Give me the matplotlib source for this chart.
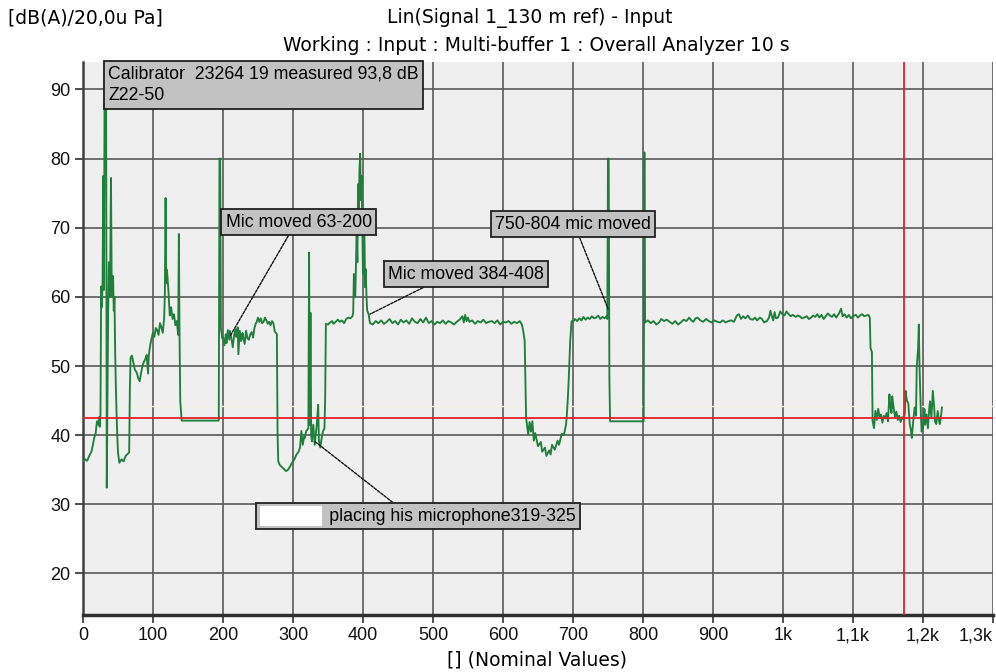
import matplotlib
matplotlib.use("Agg")
import matplotlib.pyplot as plt
from matplotlib.patches import Rectangle

plt.rcParams['font.family'] = ['Liberation Sans', 'DejaVu Sans']

# level trace (nominal index, dB(A))
trace_x = [
    0, 3, 6, 9, 12, 14, 16, 18, 20, 22, 23, 24, 25, 26, 27, 28, 29, 30, 31, 33, 34,
    36, 37, 38, 39, 40, 41, 42, 43, 44, 45, 46, 47, 48, 49, 50, 52, 55, 58, 61, 64, 66,
    67, 68, 70, 72, 74, 77, 79, 81, 83, 85, 87, 89, 91, 93, 94, 96, 98, 100, 102, 104,
    106, 108, 110, 112, 114, 116, 117, 118, 119, 120, 122, 124, 126, 128, 130, 132, 134,
    136, 137, 138, 139, 141, 194, 195, 196, 197,
    199, 200, 202, 204, 205, 207, 209, 210, 212, 214, 216, 218, 219, 221, 222, 224, 226,
    228, 229, 231, 233, 235, 237, 239, 241, 243, 245, 247, 248, 250, 252, 254, 256, 258,
    260, 262, 264, 266, 268, 270, 272, 274, 277, 278, 279, 281, 284, 287, 290, 293, 296,
    298, 300, 302, 305, 308, 310, 312, 314, 316, 317, 319, 322, 323, 324, 325, 326, 327,
    329, 331, 334, 336, 337, 339, 341, 343, 345, 346, 347, 350, 353, 356, 358, 361, 364,
    367, 370, 373, 376, 379, 382, 385, 386, 387, 389, 391, 392, 393, 394, 395, 396, 397,
    398, 399, 400, 401, 402, 403, 404, 405, 406, 408, 410,
    414, 418, 422, 426, 430, 434, 438, 442, 446, 450, 454, 458, 462, 466, 470, 474, 478,
    482, 486, 490, 494, 498, 502, 506, 510, 514, 518, 522, 526, 530, 534, 538, 542, 544,
    546, 548, 550, 552, 556, 560, 564, 568, 572, 576, 580, 584, 588, 592, 596, 600, 604,
    608, 612, 616, 620, 624, 627, 628, 629, 631, 633, 636, 638, 640, 642, 644, 646, 650,
    654, 656, 660, 662, 666, 668, 670, 674, 678, 680, 684, 687, 690, 691, 693, 694, 696,
    698, 700, 703, 706, 709, 712, 715, 718, 721, 724, 727, 730, 733, 736, 739, 742, 745,
    748, 749, 750, 751, 752, 753, 801, 802, 803,
    807, 811, 815, 819, 823, 826, 830, 834, 838, 842, 846, 850, 854, 858, 862, 866, 869,
    872, 875, 878, 882, 886, 890, 894, 898, 902, 906, 910, 914, 918, 922, 926, 930, 934,
    937, 940, 943, 946, 950, 953, 957, 960, 963, 967, 970, 973, 977, 980, 982, 984, 986,
    988, 990, 993, 996, 999, 1002, 1005, 1008, 1011, 1014, 1018, 1021, 1024, 1027, 1030,
    1034, 1037, 1040, 1043, 1046, 1049, 1052, 1055, 1058, 1061, 1064, 1067, 1070, 1073,
    1076, 1080, 1083, 1085, 1088, 1091, 1094, 1097, 1100, 1104, 1107, 1110, 1113, 1116,
    1119, 1122, 1124, 1125, 1127, 1128,
    1130, 1132, 1134, 1136, 1138, 1140, 1142, 1144, 1146, 1148, 1150, 1152, 1153, 1155,
    1156, 1158, 1160, 1162, 1164, 1166, 1168, 1170, 1172, 1174, 1175, 1177, 1179, 1181,
    1183, 1184, 1186, 1188, 1190, 1191, 1193, 1194, 1195, 1196, 1197, 1198, 1200, 1202,
    1203, 1205, 1207, 1209, 1210, 1212, 1214, 1216, 1217, 1219, 1221, 1223, 1224, 1226, 1227,
]
trace_y = [
    36.2, 36.5, 36.3, 37.0, 37.6, 38.5, 39.6, 40.2, 42.0, 41.5, 42.6, 41.2, 43.0, 61.5, 58.5, 62.0, 77.5, 61.0, 93.8, 93.8, 32.4,
    58.0, 65.0, 60.0, 64.5, 77.2, 62.0, 60.0, 63.0, 58.0, 60.0, 52.0, 47.0, 43.0, 40.0, 37.5, 36.0, 36.5, 36.2, 37.0, 37.3, 37.5,
    46.8, 51.2, 51.5, 50.5, 49.5, 49.0, 48.2, 47.8, 49.0, 50.0, 50.6, 51.0, 51.6, 48.9, 51.5, 53.0, 54.0, 54.8, 54.2, 55.5,
    55.2, 54.5, 56.2, 55.6, 54.8, 57.0, 60.6, 74.3, 62.0, 63.9, 61.0, 57.3, 58.5, 56.8, 57.5, 55.9, 56.5,
    54.5, 69.1, 54.0, 44.9, 42.1, 42.1, 80.0, 80.0, 55.5,
    54.0, 54.1, 53.0, 54.6, 53.3, 55.2, 53.8, 55.1, 54.0, 52.7, 54.5, 55.3, 54.2, 55.6, 51.7, 55.1, 53.6,
    54.8, 54.1, 53.2, 55.1, 54.0, 53.8, 54.6, 54.9, 54.1, 55.5, 56.2, 56.3, 57.0, 56.4, 56.9, 56.2, 56.4,
    57.0, 56.6, 56.1, 56.4, 55.9, 56.5, 56.2, 55.0, 54.6, 40.0, 36.2, 35.7, 35.4, 35.1, 34.8, 35.0, 35.5,
    35.9, 36.2, 36.5, 37.2, 37.6, 38.2, 40.6, 38.6, 39.8, 39.6, 40.6, 41.0, 66.4, 41.5, 57.7, 40.0, 39.1,
    41.5, 38.6, 41.5, 44.4, 39.2, 38.2, 39.6, 40.6, 41.0, 45.4, 56.1, 56.0, 56.3, 56.5, 56.1, 56.4, 56.7,
    56.4, 56.6, 56.2, 56.8, 57.0, 56.9, 57.2, 57.7, 63.3, 60.0, 69.6, 65.0, 76.3, 72.0, 78.5, 80.7, 74.0,
    77.5, 70.0, 63.3, 68.0, 69.6, 61.4, 64.0, 60.0, 58.0, 57.5, 56.2,
    56.0, 56.5, 56.2, 56.6, 56.1, 56.4, 56.8, 56.2, 56.5, 56.0, 56.7, 56.3, 56.6, 56.1, 56.9, 56.4, 56.2,
    56.8, 56.3, 57.0, 56.2, 56.5, 56.0, 56.4, 56.2, 56.6, 56.1, 56.5, 56.3, 56.0, 56.4, 56.7, 57.2, 56.3,
    57.4, 56.5, 57.0, 56.4, 56.6, 56.1, 56.5, 56.3, 56.7, 56.2, 56.4, 56.5, 56.2, 56.6, 56.0, 56.4, 56.3,
    56.5, 56.1, 56.4, 56.2, 56.5, 56.0, 55.5, 55.0, 53.6, 42.5, 40.1, 41.9, 40.5, 42.0, 39.2, 40.3, 38.4,
    39.0, 37.6, 38.2, 37.0, 37.8, 37.2, 38.6, 37.9, 39.2, 38.6, 40.2, 40.0, 41.5, 42.6, 46.0, 48.3, 53.6,
    56.5, 56.4, 56.8, 56.5, 56.9, 56.6, 57.1, 56.7, 57.0, 56.8, 57.2, 56.9, 57.0, 57.3, 56.8, 57.1, 56.9,
    57.2, 56.8, 80.0, 80.0, 48.1, 42.0, 42.0, 80.9, 56.3,
    56.6, 56.2, 56.5, 56.0, 56.3, 56.8, 56.5, 56.7, 56.4, 56.1, 56.5, 56.0, 56.3, 56.7, 56.5, 57.0, 56.6,
    56.4, 56.9, 57.0, 56.6, 56.4, 56.8, 56.5, 56.3, 56.6, 56.4, 56.3, 56.6, 56.3, 56.5, 56.6, 56.4, 57.3,
    57.5, 56.8, 57.2, 56.9, 57.3, 56.8, 56.7, 57.0, 56.6, 57.0, 56.8, 56.3, 56.5, 57.0, 58.0, 57.2, 56.6,
    57.8, 56.9, 57.0, 57.9, 57.5, 57.3, 57.9, 57.5, 57.2, 57.4, 57.1, 57.3, 57.2, 56.9, 57.0,
    57.2, 56.8, 57.0, 57.3, 57.1, 57.5, 57.0, 57.4, 56.8, 57.2, 57.6, 57.3, 57.1, 57.5,
    57.0, 57.6, 58.3, 57.2, 57.5, 57.0, 57.4, 56.9, 57.2, 57.4, 57.0, 57.3, 57.5, 57.2,
    57.3, 57.4, 57.0, 52.6, 52.0, 42.0,
    41.0, 43.5, 42.2, 43.8, 42.6, 43.0, 41.8, 42.8, 42.4, 43.2, 42.0, 45.9, 44.5, 43.2,
    45.6, 44.0, 42.6, 43.4, 42.2, 42.8, 41.9, 42.6, 42.3, 43.0, 46.4, 45.0, 44.6, 41.6,
    40.6, 39.6, 42.0, 44.0, 42.8, 49.8, 52.6, 56.0, 50.0, 46.4, 43.0, 40.5, 41.0, 43.8,
    41.5, 43.0, 41.0, 44.0, 44.9, 42.5, 46.4, 44.0, 42.0, 41.6, 43.5, 42.0, 41.6, 43.0, 44.0,
]

# cursors
cursor_level = 42.5
cursor_pos = 1173

x_ticks = list(range(0, 1301, 100))
x_tick_labels = ['0', '100', '200', '300', '400', '500', '600', '700', '800', '900',
                 '1k', '1,1k', '1,2k', '1,3k']
y_ticks = [20, 30, 40, 50, 60, 70, 80, 90]

notes = [
    # text, point, text position, alignment, leader anchor on box
    ('Mic moved 63-200', (210, 54.3), (308, 70.8), 'center', (0.45, 0.0)),
    ('Mic moved 384-408', (410, 57.5), (547, 63.3), 'center', (0.29, 0.0)),
    ('750-804 mic moved', (750, 58.3), (700, 70.5), 'center', (0.53, 0.0)),
    ('              placing his microphone319-325', (331, 39.1), (254, 28.3), 'left', (0.44, 1.0)),
]

fig = plt.figure(figsize=(9.96, 6.72), dpi=100)
ax = fig.add_axes([0.0833, 0.085, 0.9137, 0.823])
ax.set_facecolor('#efefef')

ax.plot(trace_x, trace_y, color='#1f7f3b', lw=1.35, zorder=3)
ax.axhline(44.2, color='#f4f1dc', lw=1, zorder=1)
ax.axhline(cursor_level, color='#e4202a', lw=1.3, zorder=4)
ax.axvline(cursor_pos, color='#e4202a', lw=1.3, zorder=4)

ax.set_xlim(0, 1300)
ax.set_ylim(14, 94)
ax.set_xticks(x_ticks)
ax.set_xticklabels(x_tick_labels)
ax.set_yticks(y_ticks)
ax.grid(True, color='#5a5a5a', lw=1.2, zorder=2)
ax.set_axisbelow(True)
ax.tick_params(direction='out', length=6, width=1.2, colors='#303030',
               labelsize=13, labelcolor='#111111', pad=3)
ax.get_xticklabels()[-1].set_ha('right')
for side in ['top', 'right']:
    ax.spines[side].set_visible(False)
ax.spines['left'].set_color('#404040')
ax.spines['left'].set_linewidth(1.8)
ax.spines['bottom'].set_color('#303030')
ax.spines['bottom'].set_linewidth(2.5)

box = dict(boxstyle='square,pad=0.25', fc='#c2c2c2', ec='#202020', lw=1.3)
ax.annotate('Calibrator  23264 19 measured 93,8 dB\nZ22-50', xy=(33, 93.8), xytext=(36, 93.5),
            ha='left', va='top', fontsize=12.8, bbox=box, linespacing=1.4,
            arrowprops=dict(arrowstyle='-', color='#202020', lw=1), zorder=5)
for text, point, pos, align, rel in notes:
    ax.annotate(text, xy=point, xytext=pos, ha=align, va='center', fontsize=12.8,
                bbox=box, zorder=5,
                arrowprops=dict(arrowstyle='-', color='#111111', lw=1,
                                linestyle=(0, (2, 1)), relpos=rel, shrinkA=0, shrinkB=0))
# blanked-out part of the last note
ax.add_patch(Rectangle((253, 26.9), 88, 2.8, fc='white', ec='none', zorder=6))

head = dict(fontsize=13.5, family='DejaVu Sans', va='center')
fig.text(0.008, 0.973, '[dB(A)/20,0u Pa]', ha='left', **head)
fig.text(0.532, 0.973, 'Lin(Signal 1_130 m ref) - Input', ha='center', **head)
fig.text(0.538, 0.933, 'Working : Input : Multi-buffer 1 : Overall Analyzer 10 s', ha='center', **head)
fig.text(0.539, 0.018, '[] (Nominal Values)', ha='center', **head)

fig.savefig('out.png', dpi=100, facecolor='white')
